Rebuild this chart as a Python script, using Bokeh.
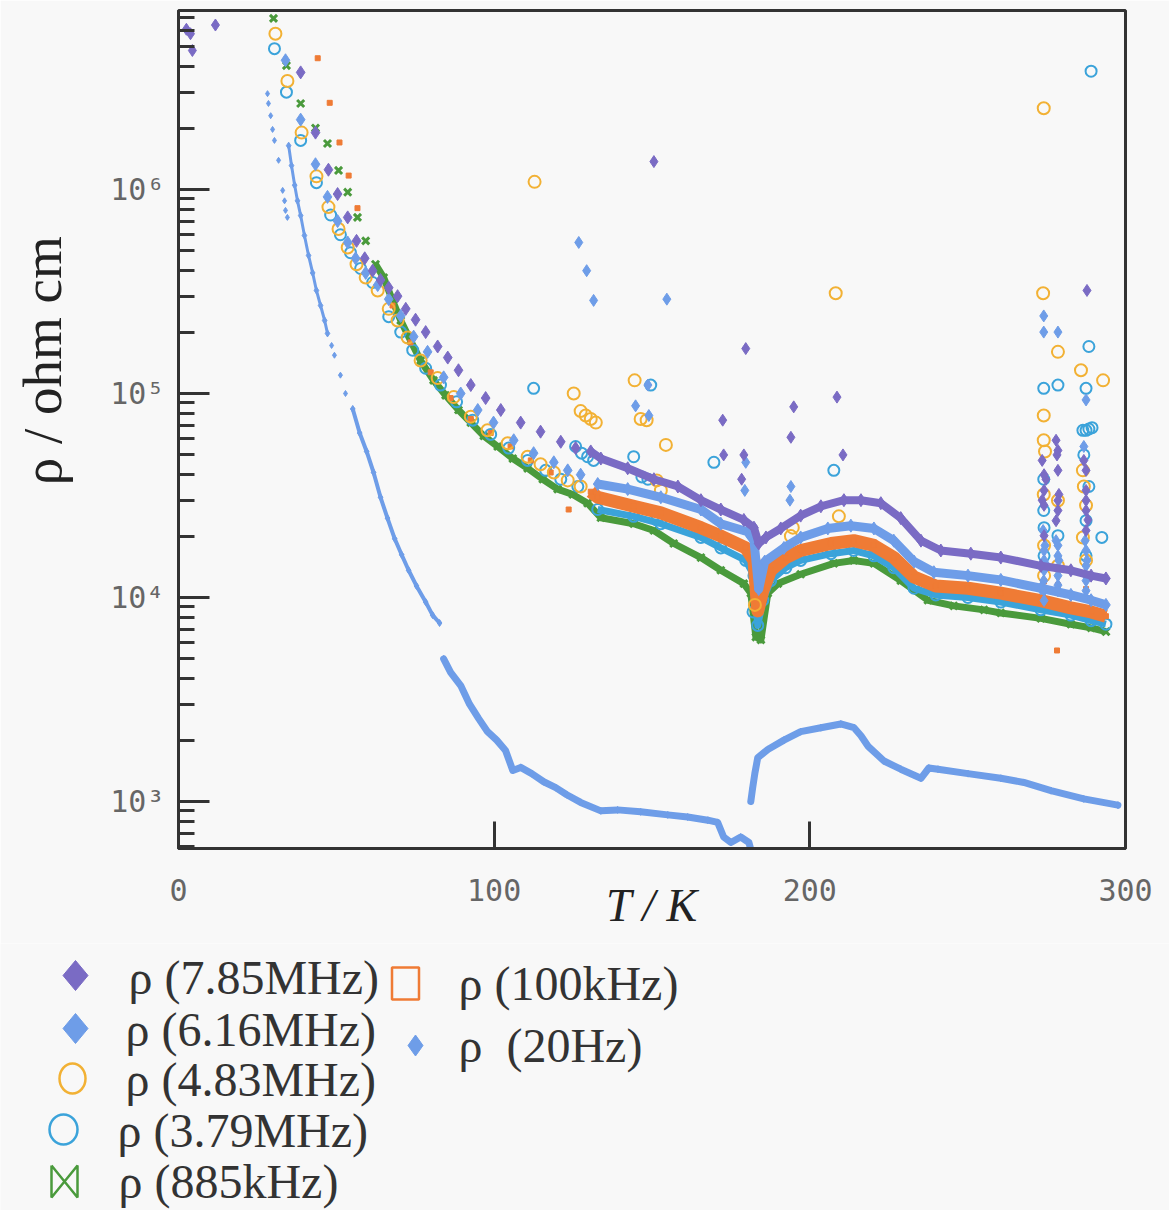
import numpy as np
from bokeh.plotting import figure
from bokeh.models import Range1d, FixedTicker
from bokeh.embed import file_html
from bokeh.resources import INLINE
from bokeh.core.properties import value

BG = "#f8f8f8"
AX = "#333333"
C_P = "#7a6bc4"
C_LB = "#6e9de8"
C_GO = "#f2b134"
C_TE = "#3ba3da"
C_GR = "#4a9a3c"
C_OR = "#ef7b35"
C_20 = "#6e9de8"

# ---------------- data (T in K, rho in ohm cm) ----------------
p785_T = [38.7, 43.4, 47.5, 50.4, 53.6, 56.4, 59.0, 61.5, 64.0, 66.6, 69.4, 72.0, 75.1, 78.3, 82.1, 85.3, 88.7, 92.6, 97.3, 102.1,
          108.4, 114.7, 121.1, 125.8, 130.6, 133.8, 142.3, 150.6, 158.2, 165.5, 171.8, 179.1, 182.3, 183.8, 186.1, 190.8, 197.1, 203.5, 210.8, 216.2,
          222.5, 228.8, 235.2, 241.5, 251.0, 260.5, 273.2, 282.7, 289.1, 293.8]
p785_R = [3.75e6, 1.9e6, 1.25e6, 9.5e5, 7.3e5, 5.6e5, 4.6e5, 4.0e5, 3.6e5, 3.3e5, 3.0e5, 2.6e5, 2.3e5, 2.0e5, 1.7e5, 1.5e5, 1.3e5, 1.1e5, 9.5e4, 8.3e4,
          7.2e4, 6.5e4, 5.8e4, 5.4e4, 5.2e4, 4.8e4, 4.3e4, 3.8e4, 3.5e4, 3.0e4, 2.7e4, 2.4e4, 2.2e4, 1.84e4, 1.97e4, 2.18e4, 2.52e4, 2.8e4, 3.0e4, 3.0e4,
          2.9e4, 2.45e4, 1.9e4, 1.7e4, 1.64e4, 1.57e4, 1.43e4, 1.36e4, 1.28e4, 1.24e4]
p785_out_T = [2.5, 3.8, 4.4, 11.7, 150.6, 172.4, 172.7, 178.4, 179.1, 179.7, 194.0, 194.9, 208.6, 210.5, 273.6, 273.6, 274.8, 278.0, 278.0, 278.3,
              278.9, 286.8, 287.5, 287.8, 288.1,
              274.2, 274.2, 274.2, 274.2, 278.6, 278.6, 278.6, 278.6, 287.5, 287.5, 287.5, 287.5]
p785_out_R = [6.1e6, 5.8e6, 4.8e6, 6.4e6, 1.37e6, 7.4e4, 5.0e4, 3.8e4, 5.0e4, 1.66e5, 6.1e4, 8.6e4, 9.6e4, 5.0e4, 4.7e4, 3.0e4, 3.8e4, 5.9e4, 2.38e4, 5.0e4,
              3.2e4, 4.7e4, 3.35e4, 3.2e5, 2.4e4,
              4.0e4, 3.35e4, 2.83e4, 2.01e4, 5.26e4, 4.2e4, 2.99e4, 2.67e4, 4.2e4, 2.99e4, 2.67e4, 2.13e4]

p616_T = [33.9, 38.7, 43.4, 47.2, 50.4, 53.6, 56.1, 59.3, 63.1, 66.6, 70.4, 74.5, 78.9, 84.0, 89.4, 94.8, 99.8, 106.2, 112.5, 118.9,
          123.3, 127.4, 132.8, 142.3, 152.8, 165.5, 171.8, 180.3, 182.3, 183.8, 185.7, 191.8, 197.1, 205.7, 213.0, 220.3, 226.6, 233.0, 239.3, 250.1,
          260.5, 273.2, 282.7, 289.1, 293.8]
p616_R = [4.3e6, 2.2e6, 1.33e6, 9.2e5, 7.0e5, 5.5e5, 4.6e5, 3.9e5, 3.4e5, 2.9e5, 2.4e5, 1.9e5, 1.6e5, 1.2e5, 1.0e5, 8.3e4, 7.2e4, 5.9e4, 5.1e4, 4.6e4,
          4.2e4, 4.0e4, 3.6e4, 3.4e4, 3.1e4, 2.7e4, 2.3e4, 2.1e4, 1.9e4, 1.1e4, 1.5e4, 1.75e4, 1.97e4, 2.18e4, 2.25e4, 2.18e4, 1.9e4, 1.5e4, 1.33e4, 1.28e4,
          1.22e4, 1.11e4, 1.03e4, 9.7e3, 9.2e3]
p616_out_T = [126.8, 129.3, 131.5, 144.8, 148.7, 149.0, 154.7, 179.4, 179.7, 193.7, 194.0, 273.9, 274.1, 274.1, 274.1, 274.5, 275.1, 278.0, 278.6, 278.6,
              278.9, 286.8, 287.2, 287.5, 287.5, 287.8,
              274.2, 274.2, 274.2, 274.2, 274.2, 278.6, 278.6, 278.6, 278.6, 287.5, 287.5, 287.5, 287.5]
p616_out_R = [5.5e5, 4.0e5, 2.86e5, 8.7e4, 1.1e5, 7.8e4, 2.9e5, 3.35e4, 4.6e4, 3.0e4, 3.5e4, 2.13e4, 2.4e5, 2.0e5, 1.21e4, 1.8e4, 1.43e4, 1.9e4, 2.0e5, 1.15e4,
              1.52e4, 5.5e4, 1.9e4, 9.3e4, 1.21e4, 1.52e4,
              1.70e4, 1.52e4, 1.36e4, 1.08e4, 9.66e3, 1.80e4, 1.60e4, 1.28e4, 1.08e4, 1.70e4, 1.43e4, 1.28e4, 1.08e4]

p483_T = [30.7, 34.5, 39.0, 43.7, 47.5, 50.7, 53.6, 56.4, 59.3, 63.1, 66.6, 69.4, 72.6, 76.7, 82.1, 87.2, 92.6, 97.9, 104.3, 110.6,
          114.7, 118.9, 123.3, 127.4]
p483_R = [5.8e6, 3.4e6, 1.9e6, 1.16e6, 8.2e5, 6.4e5, 5.2e5, 4.3e5, 3.7e5, 3.2e5, 2.6e5, 2.28e5, 1.88e5, 1.45e5, 1.19e5, 9.6e4, 7.7e4, 6.6e4, 5.7e4, 4.9e4,
          4.5e4, 4.1e4, 3.75e4, 3.5e4]
p483_out_T = [112.8, 125.2, 127.4, 129.0, 130.6, 132.2, 144.5, 146.4, 148.3, 151.5, 152.8, 154.4, 182.6, 194.0, 194.6, 208.2, 209.2, 273.9, 274.1, 274.1,
              274.1, 274.1, 274.5, 278.6, 285.9, 286.5, 286.5, 286.8, 292.9,
              274.2, 274.2, 278.6, 278.6, 287.5, 287.5]
p483_out_R = [1.09e6, 1.0e5, 8.2e4, 7.8e4, 7.5e4, 7.2e4, 1.16e5, 7.5e4, 7.4e4, 3.75e4, 3.35e4, 5.6e4, 9.2e3, 2.0e4, 2.2e4, 3.1e5, 2.5e4, 3.1e5, 2.5e6, 7.8e4,
              5.9e4, 3.2e4, 5.2e4, 1.6e5, 1.3e5, 4.2e4, 1.97e4, 3.5e4, 1.16e5,
              1.80e4, 1.28e4, 2.99e4, 1.43e4, 2.83e4, 1.52e4]

p379_T = [30.4, 34.2, 38.7, 43.7, 48.2, 51.3, 54.5, 57.7, 61.5, 66.6, 70.4, 74.2, 78.3, 83.0, 88.1, 93.2, 98.9, 104.6, 110.6, 116.3,
          121.1, 126.5, 132.8, 144.2, 152.8, 165.5, 171.8, 179.7, 182.3, 183.5, 185.1, 187.6, 192.4, 197.1, 206.7, 213.9, 220.3, 226.6, 233.0, 239.9,
          250.1, 260.5, 273.2, 282.7, 289.1, 293.8]
p379_R = [4.9e6, 3.0e6, 1.74e6, 1.08e6, 7.5e5, 6.0e5, 4.9e5, 4.1e5, 3.5e5, 2.38e5, 2.0e5, 1.63e5, 1.33e5, 1.1e5, 9.1e4, 7.4e4, 6.3e4, 5.4e4, 4.7e4, 4.2e4,
          3.8e4, 3.5e4, 2.7e4, 2.5e4, 2.3e4, 1.97e4, 1.75e4, 1.52e4, 1.28e4, 7.3e3, 9.7e3, 1.21e4, 1.4e4, 1.52e4, 1.64e4, 1.70e4, 1.60e4, 1.40e4, 1.11e4, 1.03e4,
          1.0e4, 9.5e3, 8.7e3, 8.2e3, 7.7e3, 7.4e3]
p379_out_T = [112.5, 125.8, 127.7, 129.6, 131.5, 144.2, 146.8, 148.7, 149.6, 151.5, 169.6, 182.0, 207.6, 274.1, 274.1, 274.1, 278.6, 286.5, 286.8, 287.5,
              287.5, 288.4, 288.4, 288.4, 289.1, 289.4, 292.5,
              274.2, 274.2, 278.6, 287.5, 287.5]
p379_out_R = [1.06e5, 5.5e4, 5.1e4, 4.9e4, 4.7e4, 4.9e4, 3.9e4, 3.8e4, 1.1e5, 2.4e4, 4.6e4, 8.5e3, 4.2e4, 1.06e5, 3.8e4, 2.67e4, 1.1e5, 6.6e4, 5.0e4, 1.06e5,
              6.6e4, 1.7e5, 6.7e4, 3.5e4, 3.8e6, 6.8e4, 1.97e4,
              2.2e4, 1.6e4, 2.01e4, 2.38e4, 1.6e4]

p885_T = [30.1, 34.2, 38.7, 43.4, 47.2, 50.7, 53.6, 56.7, 59.3, 62.4, 65.0, 67.8, 70.4, 73.5, 76.7, 80.8, 84.6, 88.7, 92.6, 96.7,
          101.1, 105.9, 110.6, 115.4, 120.1, 124.9, 129.6, 133.8, 144.2, 150.6, 156.9, 165.5, 171.8, 179.1, 181.3, 182.9, 184.5, 186.7, 189.9, 197.1,
          207.6, 213.9, 220.3, 228.8, 237.4, 245.6, 255.2, 260.5, 273.2, 282.7, 289.1, 293.8]
p885_R = [6.9e6, 4.05e6, 2.64e6, 2.0e6, 1.68e6, 1.24e6, 9.7e5, 7.3e5, 5.6e5, 4.3e5, 3.7e5, 2.86e5, 2.28e5, 1.82e5, 1.45e5, 1.16e5, 9.8e4, 8.3e4, 7.2e4, 6.2e4,
          5.5e4, 4.8e4, 4.3e4, 3.8e4, 3.4e4, 3.2e4, 2.9e4, 2.46e4, 2.3e4, 2.13e4, 1.84e4, 1.57e4, 1.36e4, 1.17e4, 1.05e4, 6.4e3, 6.2e3, 1.05e4, 1.17e4, 1.3e4,
          1.47e4, 1.52e4, 1.47e4, 1.21e4, 9.7e3, 9.1e3, 8.7e3, 8.4e3, 7.9e3, 7.4e3, 7.1e3, 6.8e3]

p100_T = [44.1, 47.9, 51.0, 53.9, 56.7, 67.8, 73.5, 79.9, 86.2, 92.6, 98.9, 105.2, 111.6, 117.9, 123.6, 130.6, 132.8, 144.2, 152.8, 165.5,
          171.8, 179.7, 182.3, 183.5, 185.1, 187.6, 192.4, 197.1, 206.7, 213.9, 220.3, 226.6, 233.0, 239.9, 250.1, 260.5, 273.2, 282.7, 289.1, 293.8]
p100_R = [4.4e6, 2.66e6, 1.7e6, 1.17e6, 8.1e5, 2.7e5, 1.78e5, 1.27e5, 9.5e4, 7.5e4, 6.4e4, 5.5e4, 4.7e4, 4.1e4, 2.7e4, 3.3e4, 3.1e4, 2.8e4, 2.6e4, 2.2e4,
          2.0e4, 1.75e4, 1.52e4, 8.6e3, 1.08e4, 1.36e4, 1.57e4, 1.70e4, 1.84e4, 1.90e4, 1.80e4, 1.57e4, 1.26e4, 1.14e4, 1.11e4, 1.05e4, 9.66e3, 8.9e3, 8.5e3, 8.1e3]
p100_out_T = [278.3, 274.2, 278.6, 287.5]
p100_out_R = [5.5e3, 1.2e4, 1.15e4, 1.1e4]

hz20_sparse_T = [28.2, 28.5, 29.2, 29.8, 30.4, 31.7, 33.0, 33.6, 33.9, 34.5, 48.5, 49.4, 51.3, 52.9]
hz20_sparse_R = [2.95e6, 2.64e6, 2.3e6, 1.97e6, 1.74e6, 1.39e6, 9.9e5, 8.8e5, 7.9e5, 7.3e5, 1.72e5, 1.54e5, 1.23e5, 1.0e5]
hz20_a_T = [34.9, 35.8, 36.8, 37.7, 38.7, 39.9, 41.2, 42.5, 43.7, 45.0, 46.3, 47.2]
hz20_a_R = [1.64e6, 1.31e6, 1.05e6, 8.8e5, 7.45e5, 5.95e5, 4.75e5, 3.9e5, 3.2e5, 2.7e5, 2.28e5, 1.97e5]
hz20_b_T = [55.2, 57.4, 59.6, 61.8, 64.0, 66.2, 68.5, 70.7, 72.9, 75.4, 78.3, 80.5, 82.7]
hz20_b_R = [8.4e4, 6.4e4, 5.2e4, 4.1e4, 3.1e4, 2.45e4, 1.94e4, 1.62e4, 1.36e4, 1.14e4, 9.5e3, 8.2e3, 7.5e3]
hz20_c_T = [84.0, 86.2, 89.4, 92.2, 95.1, 97.9, 100.8, 103.6, 105.9, 108.4, 111.9, 115.7, 119.5, 123.0, 127.4, 133.8, 139.1, 146.4, 155.0, 161.3,
            167.7, 170.8, 172.7, 175.0, 178.1, 180.7, 181.6]
hz20_c_R = [5.0e3, 4.3e3, 3.7e3, 3.0e3, 2.55e3, 2.2e3, 2.0e3, 1.78e3, 1.42e3, 1.47e3, 1.37e3, 1.25e3, 1.17e3, 1.08e3, 9.9e2, 9.0e2, 9.1e2, 8.9e2, 8.6e2, 8.4e2,
            8.1e2, 7.9e2, 6.7e2, 6.3e2, 6.7e2, 6.3e2, 5.6e2]
hz20_d_T = [181.3, 181.9, 182.6, 183.5, 186.7, 191.8, 197.1, 203.5, 209.8, 214.0, 216.2, 218.4, 223.5, 228.8, 235.2, 237.7, 240.6, 250.1, 260.5, 267.8,
            276.4, 286.8, 297.6]
hz20_d_R = [1.0e3, 1.17e3, 1.38e3, 1.64e3, 1.8e3, 2.0e3, 2.2e3, 2.3e3, 2.4e3, 2.3e3, 2.1e3, 1.87e3, 1.58e3, 1.44e3, 1.3e3, 1.46e3, 1.44e3, 1.37e3, 1.3e3, 1.24e3,
            1.13e3, 1.03e3, 9.6e2]

x_ticks = [0, 100, 200, 300]
y_ticks = [1000, 10000, 100000, 1000000]
y_tick_labels = ["10³", "10⁴", "10⁵", "10⁶"]
legend_labels = ["ρ (7.85MHz)", "ρ (6.16MHz)", "ρ (4.83MHz)", "ρ (3.79MHz)", "ρ (885kHz)", "ρ (100kHz)", "ρ \u00a0(20Hz)"]


def above(T, R, tmin):
    T = np.asarray(T, dtype=float)
    R = np.asarray(R, dtype=float)
    m = T >= tmin
    return T[m], R[m]


MAIN_H = 943
# ---------------- main figure ----------------
p = figure(width=1169, height=MAIN_H, x_range=Range1d(0, 300), y_range=Range1d(588.5, 7.54e6),
           y_axis_type="log", output_backend="svg", toolbar_location=None,
           min_border_left=178, min_border_right=44, min_border_top=10, min_border_bottom=MAIN_H - 848,
           background_fill_color=BG, border_fill_color=BG,
           outline_line_color=AX, outline_line_width=3)
p.grid.visible = False

xa = p.xaxis[0]
xa.ticker = FixedTicker(ticks=x_ticks)
xa.major_tick_in = 27
xa.major_tick_out = 0
xa.minor_tick_in = 0
xa.minor_tick_out = 0
xa.axis_line_width = 3
xa.axis_line_color = AX
xa.major_tick_line_width = 3
xa.major_tick_line_color = AX
xa.major_label_text_font = "DejaVu Sans Mono"
xa.major_label_text_font_size = "30px"
xa.major_label_text_color = "#666666"
xa.major_label_standoff = 30
xa.axis_label = "T / K"
xa.axis_label_text_font = "Liberation Serif"
xa.axis_label_text_font_style = "italic"
xa.axis_label_text_font_size = "46px"
xa.axis_label_text_color = "#222222"
xa.axis_label_standoff = -24

ya = p.yaxis[0]
minor = [m * 10.0 ** e for e in range(2, 7) for m in range(2, 10)]
ya.ticker = FixedTicker(ticks=y_ticks, minor_ticks=minor)
ya.major_label_overrides = dict(zip(y_ticks, y_tick_labels))
ya.major_tick_in = 31
ya.major_tick_out = 0
ya.minor_tick_in = 16
ya.minor_tick_out = 0
ya.axis_line_width = 3
ya.axis_line_color = AX
ya.major_tick_line_width = 3
ya.major_tick_line_color = AX
ya.minor_tick_line_width = 3
ya.minor_tick_line_color = AX
ya.major_label_text_font = "DejaVu Sans Mono"
ya.major_label_text_font_size = "30px"
ya.major_label_text_color = "#666666"
ya.major_label_standoff = 14
ya.axis_label = "\u00a0" * 10 + "ρ / ohm cm"
ya.axis_label_text_font = "Liberation Serif"
ya.axis_label_text_font_style = "normal"
ya.axis_label_text_font_size = "55px"
ya.axis_label_text_color = "#222222"
ya.axis_label_standoff = 34

# 20 Hz
for (T, R), w in [((hz20_a_T, hz20_a_R), 3), ((hz20_b_T, hz20_b_R), 4), ((hz20_c_T, hz20_c_R), 7), ((hz20_d_T, hz20_d_R), 7)]:
    p.line(T, R, line_color=C_20, line_width=w, line_join="round", line_cap="round")
    p.scatter(T, R, marker="diamond", size=7, color=C_20)
p.scatter(hz20_sparse_T, hz20_sparse_R, marker="diamond", size=6, color=C_20)

# 885 kHz
t, r = above(p885_T, p885_R, 62)
p.line(t, r, line_color=C_GR, line_width=7, line_join="round")
p.scatter(p885_T, p885_R, marker="x", size=10, line_color=C_GR, line_width=3)

# 3.79 MHz
t, r = above(p379_T, p379_R, 130)
p.line(t, r, line_color=C_TE, line_width=7, line_join="round")
p.scatter(p379_T, p379_R, marker="circle", size=11, fill_color=None, line_color=C_TE, line_width=2)
p.scatter(p379_out_T, p379_out_R, marker="circle", size=11, fill_color=None, line_color=C_TE, line_width=2)

# 100 kHz
t, r = above(p100_T, p100_R, 130)
p.line(t, r, line_color=C_OR, line_width=13, line_join="round")
p.scatter(p100_T, p100_R, marker="square", size=5, color=C_OR)
p.scatter(p100_out_T, p100_out_R, marker="square", size=5, color=C_OR)

# 4.83 MHz
p.scatter(p483_T, p483_R, marker="circle", size=12, fill_color=None, line_color=C_GO, line_width=2)
p.scatter(p483_out_T, p483_out_R, marker="circle", size=12, fill_color=None, line_color=C_GO, line_width=2)

# 6.16 MHz
t, r = above(p616_T, p616_R, 130)
p.line(t, r, line_color=C_LB, line_width=9, line_join="round")
p.scatter(p616_T, p616_R, marker="diamond", size=13, color=C_LB)
p.scatter(p616_out_T, p616_out_R, marker="diamond", size=12, color=C_LB)

# 7.85 MHz
t, r = above(p785_T, p785_R, 128)
p.line(t, r, line_color=C_P, line_width=8, line_join="round")
p.scatter(p785_T, p785_R, marker="diamond", size=13, color=C_P)
p.scatter(p785_out_T, p785_out_R, marker="diamond", size=12, color=C_P)

# ---------------- legend figure (pixel space, separate root) ----------------
TOP = MAIN_H
LH = 1210 - MAIN_H
lg = figure(width=1169, height=LH, x_range=Range1d(0, 1169), y_range=Range1d(LH, 0),
            output_backend="svg", toolbar_location=None, min_border=0,
            x_axis_type=None, y_axis_type=None,
            background_fill_color=BG, border_fill_color=BG, outline_line_color=None)
lg.grid.visible = False


def diamond(cx, cy, w, h):
    return [cx, cx + w / 2, cx, cx - w / 2], [cy - h / 2, cy, cy + h / 2, cy]


dx1, dy1 = diamond(75, 975 - TOP, 25, 30)
dx2, dy2 = diamond(75, 1028 - TOP, 25, 30)
dx7, dy7 = diamond(415, 1045 - TOP, 15, 21)
lg.patches([dx1], [dy1], fill_color=C_P, line_color=C_P)
lg.patches([dx2], [dy2], fill_color=C_LB, line_color=C_LB)
lg.patches([dx7], [dy7], fill_color=C_20, line_color=C_20)
lg.ellipse(x=[72], y=[1078 - TOP], width=[26], height=[30], fill_color=None, line_color=C_GO, line_width=2.5)
lg.ellipse(x=[63], y=[1129 - TOP], width=[28], height=[30], fill_color=None, line_color=C_TE, line_width=2.5)
bx, by = 64, 1181 - TOP
lg.line([bx - 13, bx + 13, bx + 13, bx - 13, bx - 13], [by - 16, by + 16, by - 16, by + 16, by - 16],
        line_color=C_GR, line_width=2.5)
lg.rect(x=[405], y=[983 - TOP], width=[27], height=[32], fill_color=None, line_color=C_OR, line_width=2.5)

lg.text(x=[128, 125, 125, 117, 118, 458, 458],
        y=[977 - TOP, 1029 - TOP, 1079 - TOP, 1130 - TOP, 1181 - TOP, 983 - TOP, 1045 - TOP],
        text=legend_labels,
        text_font=value("Liberation Serif"), text_font_size="48px", text_color="#333333",
        text_baseline="middle", text_align="left")

open("out.html", "w").write(file_html([p, lg], INLINE))
